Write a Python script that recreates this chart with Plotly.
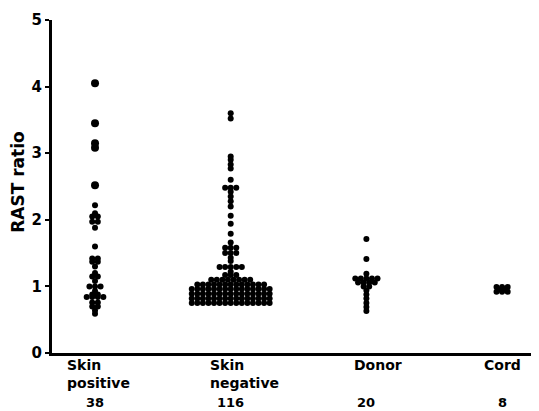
import plotly.graph_objects as go
from collections import Counter

categories = ["Skin<br>positive", "Skin<br>negative", "Donor", "Cord"]
counts = ["38", "116", "20", "8"]

skin_positive = ([4.05, 3.45, 3.15, 3.08, 2.52, 2.22, 2.1] + [2.05] * 2 + [1.97] * 2 +
                 [1.88, 1.6] + [1.42] * 2 + [1.37] * 2 + [1.3, 1.2] + [1.15] * 2 +
                 [1.08] + [1.0] * 3 + [0.93] + [0.88] * 2 + [0.84] * 4 +
                 [0.76] * 2 + [0.7] * 2 + [0.64, 0.59])

skin_negative = ([3.6, 3.52, 2.95, 2.9, 2.83, 2.77, 2.6] + [2.48] * 3 +
                 [2.42, 2.35, 2.28, 2.2, 2.06, 1.94, 1.79, 1.66] + [1.58] * 3 +
                 [1.5] * 3 + [1.43, 1.38] + [1.29] * 5 + [1.22] + [1.17] * 3 +
                 [1.1] * 8 + [1.03] * 13 + [0.96] * 15 + [0.89] * 15 +
                 [0.82] * 15 + [0.75] * 15)

donor = ([1.71, 1.41, 1.19] + [1.12] * 5 + [1.06] * 4 + [1.0] * 2 + [0.94] +
         [0.88, 0.82, 0.75, 0.69, 0.63])

cord = [0.99] * 3 + [0.955] * 2 + [0.92] * 3

groups = [skin_positive, skin_negative, donor, cord]

STEP = 0.041
fig = go.Figure()
for ci, vals in enumerate(groups):
    xs, ys, sz = [], [], []
    cnt = Counter(vals)
    for v, n in cnt.items():
        for i in range(n):
            xs.append(ci + (i - (n - 1) / 2) * STEP)
            ys.append(v)
            # the isolated high readings of the first group are printed as larger dots
            sz.append(8 if (ci == 0 and v > 2.4) else 6)
    fig.add_trace(go.Scatter(x=xs, y=ys, mode="markers",
                             marker=dict(color="black", size=sz, opacity=1,
                                         line=dict(width=0)),
                             showlegend=False, hoverinfo="skip"))

FONT = "DejaVu Sans"
fig.update_layout(
    width=539, height=411,
    margin=dict(l=44, r=0, t=12, b=66),
    paper_bgcolor="white", plot_bgcolor="white",
    font=dict(family=FONT, color="black"),
    xaxis=dict(range=[-0.317, 3.331], showgrid=False, zeroline=False,
               showline=True, linecolor="black", linewidth=3,
               showticklabels=False, ticks="", automargin=False),
    yaxis=dict(range=[0, 5], tickvals=[0, 1, 2, 3, 4, 5],
               ticktext=["<b>%d</b>" % v for v in [0, 1, 2, 3, 4, 5]],
               showgrid=False, zeroline=False, showline=True,
               linecolor="black", linewidth=3, ticks="outside",
               ticklen=4, tickwidth=2, tickcolor="black",
               tickfont=dict(size=15, family=FONT), automargin=False),
)

fig.add_annotation(x=0, y=2.57, xref="paper", yref="y", xshift=-34,
                   text="<b>RAST ratio</b>", textangle=-90, showarrow=False,
                   xanchor="center", yanchor="middle",
                   font=dict(size=17, family=FONT))

label_x = [-0.221, 0.832, 1.894, 2.852]
for i, (cat, n) in enumerate(zip(categories, counts)):
    fig.add_annotation(x=label_x[i], y=0, xref="x", yref="y", yshift=-2,
                       text="<b>" + cat + "</b>", showarrow=False,
                       xanchor="left", yanchor="top", align="left",
                       font=dict(size=14, family=FONT))
    fig.add_annotation(x=i, y=0, xref="x", yref="y", yshift=-40,
                       text="<b>" + n + "</b>", showarrow=False,
                       xanchor="center", yanchor="top",
                       font=dict(size=13, family=FONT))

fig.write_html("out.html")
